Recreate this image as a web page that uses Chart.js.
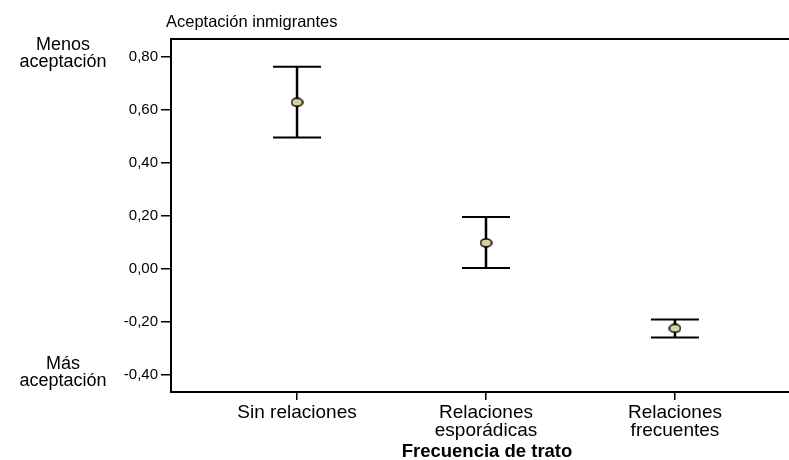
<!DOCTYPE html>
<html>
<head>
<meta charset="utf-8">
<script src="https://cdn.jsdelivr.net/npm/chart.js@4.4.1/dist/chart.umd.min.js"></script>
<style>
  html, body { margin: 0; padding: 0; background: #fff; overflow: hidden; }
  #wrap { width: 789px; height: 460px; }
</style>
</head>
<body>
<div id="wrap"><canvas id="chart"></canvas></div>
<script>
const categories = [['Sin relaciones'], ['Relaciones', 'esporádicas'], ['Relaciones', 'frecuentes']];
const positions = [1, 2, 3];
const means = [0.628, 0.097, -0.226];
const lower = [0.495, 0.002, -0.261];
const upper = [0.762, 0.195, -0.193];
const yTicks = [-0.4, -0.2, 0, 0.2, 0.4, 0.6, 0.8];

const FONT = "'Liberation Sans', Arial, sans-serif";

// slightly flattened marker, as in the original
const marker = document.createElement('canvas');
marker.width = 13;
marker.height = 10;
(() => {
  const m = marker.getContext('2d');
  m.beginPath();
  m.ellipse(6.5, 5, 5.5, 4, 0, 0, Math.PI * 2);
  m.fillStyle = '#d8d29c';
  m.fill();
  m.lineWidth = 1.5;
  m.strokeStyle = '#000';
  m.stroke();
})();

// error bars and the extra texts around the plot
const errorBars = {
  id: 'errorBars',
  beforeDatasetsDraw(chart) {
    const { ctx, chartArea, scales: { x, y } } = chart;
    ctx.save();
    ctx.strokeStyle = '#000';
    ctx.lineCap = 'butt';
    // frame lines run off the right edge, like the original
    ctx.lineWidth = 2;
    ctx.beginPath();
    ctx.moveTo(chartArea.left - 1, chartArea.top);
    ctx.lineTo(chart.width, chartArea.top);
    ctx.moveTo(chartArea.left - 1, chartArea.bottom);
    ctx.lineTo(chart.width, chartArea.bottom);
    ctx.stroke();
    positions.forEach((p, i) => {
      const px = x.getPixelForValue(p);
      const yt = y.getPixelForValue(upper[i]);
      const yb = y.getPixelForValue(lower[i]);
      ctx.lineWidth = 2.5;
      ctx.beginPath();
      ctx.moveTo(px, yt);
      ctx.lineTo(px, yb);
      ctx.stroke();
      ctx.lineWidth = 2;
      ctx.beginPath();
      ctx.moveTo(px - 24, yt);
      ctx.lineTo(px + 24, yt);
      ctx.moveTo(px - 24, yb);
      ctx.lineTo(px + 24, yb);
      ctx.stroke();
    });
    ctx.restore();
  },
  afterDraw(chart) {
    const { ctx } = chart;
    ctx.save();
    ctx.fillStyle = '#000';
    ctx.textBaseline = 'alphabetic';
    ctx.textAlign = 'left';
    ctx.font = '16.5px ' + FONT;
    ctx.fillText('Aceptación inmigrantes', 166, 27);
    ctx.textAlign = 'center';
    ctx.font = '18px ' + FONT;
    ctx.fillText('Menos', 63, 50);
    ctx.fillText('aceptación', 63, 67);
    ctx.fillText('Más', 63, 369);
    ctx.fillText('aceptación', 63, 386);
    ctx.font = 'bold 18.5px ' + FONT;
    ctx.fillText('Frecuencia de trato', 487, 457);
    ctx.restore();
  }
};

new Chart(document.getElementById('chart'), {
  type: 'scatter',
  data: {
    datasets: [{
      data: positions.map((p, i) => ({ x: p, y: means[i] })),
      pointStyle: marker,
      showLine: false
    }]
  },
  options: {
    responsive: true,
    maintainAspectRatio: false,
    animation: false,
    layout: { padding: { top: 39, right: 0, left: 0, bottom: 0 } },
    plugins: { legend: { display: false }, tooltip: { enabled: false } },
    scales: {
      x: {
        type: 'linear',
        min: 0.333,
        max: 3.577,
        afterBuildTicks: s => { s.ticks = positions.map(v => ({ value: v })); },
        afterFit: s => { s.height = 68; s.paddingLeft = 0; s.paddingRight = 0; },
        ticks: {
          callback: (v, i) => categories[i],
          color: '#000',
          font: { family: FONT, size: 19, lineHeight: 0.95 },
          padding: 4,
          maxRotation: 0,
          autoSkip: false
        },
        grid: { drawOnChartArea: false, drawTicks: true, tickLength: 8, color: '#000', lineWidth: 1.5 },
        border: { display: false }
      },
      y: {
        min: -0.4666,
        max: 0.867,
        afterBuildTicks: s => { s.ticks = yTicks.map(v => ({ value: v })); },
        afterFit: s => { s.width = 171; },
        ticks: {
          callback: v => v.toFixed(2).replace('.', ','),
          color: '#000',
          font: { family: FONT, size: 15 },
          padding: 3
        },
        grid: { drawOnChartArea: false, drawTicks: true, tickLength: 10, color: '#000', lineWidth: 1.5 },
        border: { color: '#000', width: 2 }
      }
    }
  },
  plugins: [errorBars]
});
</script>
</body>
</html>
